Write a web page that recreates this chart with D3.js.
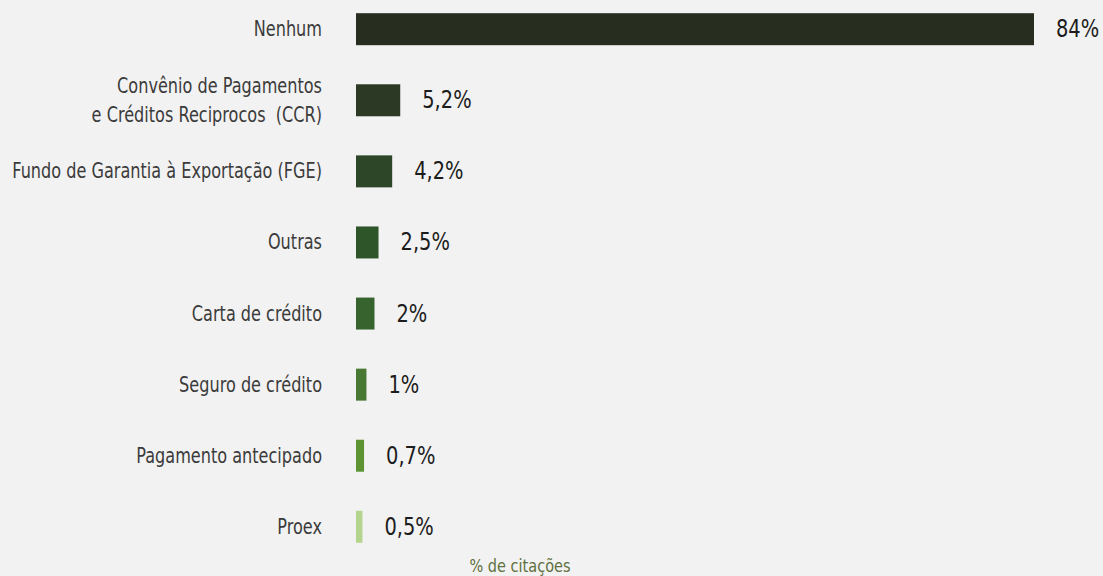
<!DOCTYPE html>
<html>
<head>
<meta charset="utf-8">
<script src="https://cdn.jsdelivr.net/npm/d3@7"></script>
<style>
  body { margin: 0; background: #f2f2f2; }
  svg { display: block; }
  text { font-family: "DejaVu Sans", sans-serif; }
  .cat-label { font-size: 20.5px; fill: #3b3b3b; }
  .val-label { font-size: 24px; fill: #1c1c1c; }
  .axis-title { font-size: 18.5px; fill: #5f7040; }
</style>
</head>
<body>
<div id="chart-area"></div>
<script>
// data
let categories = [
    ["Nenhum"],
    ["Convênio de Pagamentos", "e Créditos Reciprocos  (CCR)"],
    ["Fundo de Garantia à Exportação (FGE)"],
    ["Outras"],
    ["Carta de crédito"],
    ["Seguro de crédito"],
    ["Pagamento antecipado"],
    ["Proex"]
];
let values = [84, 5.2, 4.2, 2.5, 2, 1, 0.7, 0.5];
let valueLabels = ["84%", "5,2%", "4,2%", "2,5%", "2%", "1%", "0,7%", "0,5%"];
let colors = ["#272d1f", "#2c3a25", "#2d4628", "#2e5529", "#37642e", "#487831", "#5d9332", "#b5d58e"];

let totalWidth = 1103, totalHeight = 576;
let margin = { left: 356, right: 69, top: 0, bottom: 20 };
let width = totalWidth - margin.left - margin.right;

let svg = d3.select("#chart-area")
    .append("svg")
    .attr("width", totalWidth)
    .attr("height", totalHeight);

let g = svg.append("g")
    .attr("transform", "translate(" + margin.left + "," + margin.top + ")");

let idx = d3.range(values.length);

// Y scale (rows)
let y = d3.scaleBand()
    .domain(idx)
    .range([-6, 562])
    .paddingInner(0.55)
    .paddingOuter(0.27);

// X scale
let x = d3.scaleLinear()
    .domain([-0.3, 84])
    .range([0, width]);

// the source font is a narrow one, squeeze the glyphs horizontally
let valSqueeze = 0.81;

// Bars
g.selectAll("rect.bar")
    .data(idx)
    .enter()
    .append("rect")
        .attr("class", "bar")
        .attr("x", 0)
        .attr("y", function(i){ return y(i); })
        .attr("width", function(i){ return x(values[i]); })
        .attr("height", y.bandwidth())
        .attr("fill", function(i){ return colors[i]; });

// Value labels
g.selectAll("text.val-label")
    .data(idx)
    .enter()
    .append("text")
        .attr("class", "val-label")
        .attr("transform", function(i){
            return "translate(" + (x(values[i]) + 22) + "," + (y(i) + y.bandwidth() / 2 + 8) + ") scale(" + valSqueeze + ",1)";
        })
        .text(function(i){ return valueLabels[i]; });

// Category labels
let labelsG = g.append("g");

let labels = labelsG.selectAll("text.cat-label")
    .data(idx)
    .enter()
    .append("text")
        .attr("class", "cat-label")
        .attr("text-anchor", "end")
        .attr("x", 0)
        .attr("y", function(i){ return y(i) + y.bandwidth() / 2 + 7 - (categories[i].length - 1) * 14.5; });

labels.each(function(i){
    let lines = categories[i];
    let t = d3.select(this);
    lines.forEach(function(line, k){
        t.append("tspan")
            .attr("x", 0)
            .attr("dy", k === 0 ? 0 : 29)
            .style("white-space", "pre")
            .text(line);
    });
});

// widest single line in the reference is ~310px
let maxLen = d3.max(labelsG.selectAll("tspan").nodes(), function(n){ return n.getComputedTextLength(); });
let labSqueeze = 310 / maxLen;
labelsG.attr("transform", "translate(-34,0) scale(" + labSqueeze + ",1)");

// X Label
svg.append("text")
    .attr("class", "axis-title")
    .attr("text-anchor", "middle")
    .attr("transform", "translate(520,572) scale(" + labSqueeze + ",1)")
    .text("% de citações");
</script>
</body>
</html>
